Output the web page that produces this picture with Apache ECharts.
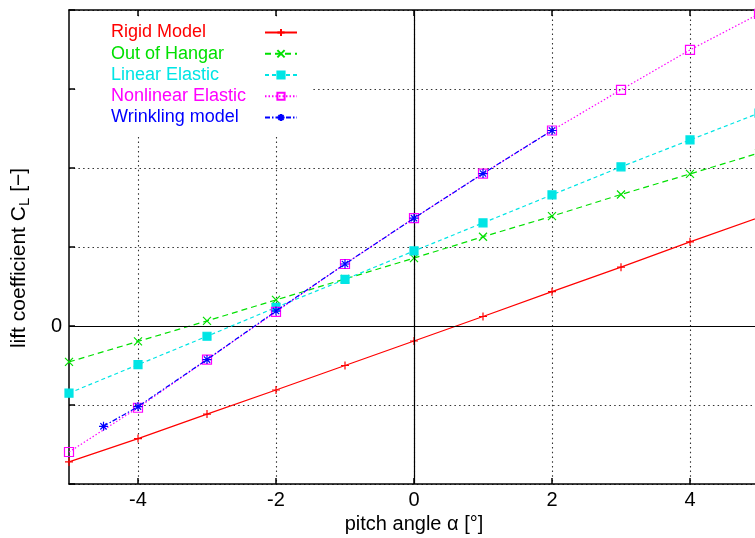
<!DOCTYPE html>
<html>
<head>
<meta charset="utf-8">
<script src="https://cdn.jsdelivr.net/npm/echarts@6/dist/echarts.min.js"></script>
<style>html,body{margin:0;padding:0;background:#fff}#c{width:755px;height:538px}</style>
</head>
<body>
<div id="c"></div>
<script>
// ---- data ----
const seriesNames = ['Rigid Model', 'Out of Hangar', 'Linear Elastic', 'Nonlinear Elastic', 'Wrinkling model'];
const pitchAngles = [-5, -4, -3, -2, -1, 0, 1, 2, 3, 4, 5];
const rigidModel = [-0.344, -0.285, -0.223, -0.162, -0.100, -0.038, 0.024, 0.087, 0.149, 0.213, 0.275];
const outOfHangar = [-0.091, -0.039, 0.013, 0.066, 0.119, 0.172, 0.226, 0.278, 0.333, 0.385, 0.438];
const linearElastic = [-0.170, -0.098, -0.026, 0.047, 0.118, 0.190, 0.261, 0.332, 0.403, 0.471, 0.539];
const nonlinearElastic = [-0.319, -0.207, -0.085, 0.036, 0.157, 0.273, 0.386, 0.495, 0.598, 0.699, 0.790];
const wrinklingAngles = [-4.5, -4, -3, -2, -1, 0, 1, 2];
const wrinklingModel = [-0.254, -0.204, -0.085, 0.038, 0.157, 0.273, 0.386, 0.495];
const xTickValues = [-4, -2, 0, 2, 4];
const yTickLabels = ['0'];

// ---- styles ----
const colors = ['#ff0000', '#00e000', '#00e5e5', '#ff00ff', '#0000ff'];
const dashes = ['solid', [6, 4], [4, 3], [1.5, 2], [5, 2, 1.5, 2]];
const symbols = [
  'path://M5,0L5,10M0,5L10,5',
  'path://M0,0L10,10M0,10L10,0',
  'rect',
  'rect',
  'path://M5,0L5,10M0,5L10,5M1.5,1.5L8.5,8.5M1.5,8.5L8.5,1.5'
];
const symbolSizes = [8, 8, 8, 9, 9];
const fills = ['#ff0000', '#00e000', '#00e5e5', 'rgba(255,255,255,0)', '#0000ff'];

function pairs(xs, ys) { return xs.map((x, i) => [x, ys[i]]); }
const dataSets = [
  pairs(pitchAngles, rigidModel),
  pairs(pitchAngles, outOfHangar),
  pairs(pitchAngles, linearElastic),
  pairs(pitchAngles, nonlinearElastic),
  pairs(wrinklingAngles, wrinklingModel)
];

const FONT = 'Liberation Sans, Arial, Helvetica, sans-serif';
const dotted = { type: [1.5, 3.2], color: '#333', width: 1.1 };

const series = seriesNames.map((name, i) => ({
  name: name,
  type: 'line',
  xAxisIndex: 0,
  yAxisIndex: 0,
  data: dataSets[i],
  symbol: symbols[i],
  symbolSize: symbolSizes[i],
  showAllSymbol: true,
  animation: false,
  lineStyle: { color: colors[i], width: 1.2, type: dashes[i] },
  itemStyle: { color: fills[i], borderColor: colors[i], borderWidth: 1.2 },
  emphasis: { disabled: true },
  z: 3 + i
}));
// zero lines
series[0].markLine = {
  silent: true,
  symbol: 'none',
  animation: false,
  label: { show: false },
  lineStyle: { color: '#000', type: 'solid', width: 1.2 },
  emphasis: { disabled: true },
  data: [{ xAxis: 0 }, { yAxis: 0 }]
};

const rich = {};
seriesNames.forEach((n, i) => {
  rich['s' + i] = { width: 149, align: 'left', color: colors[i], fontSize: 18, fontFamily: FONT, lineHeight: 21 };
});

const option = {
  animation: false,
  backgroundColor: '#fff',
  grid: [
    { left: 69, top: 10, width: 690, height: 474, outerBoundsMode: 'none', containLabel: false },
    { left: 138, top: 10, width: 552, height: 474, outerBoundsMode: 'none', containLabel: false }
  ],
  legend: {
    data: seriesNames,
    orient: 'vertical',
    left: 76,
    top: 18,
    align: 'right',
    padding: [4, 15, 6, 35],
    itemGap: 0.25,
    itemWidth: 32,
    itemHeight: 9,
    backgroundColor: '#fff',
    selectedMode: false,
    formatter: name => '{s' + seriesNames.indexOf(name) + '|' + name + '}',
    textStyle: { fontSize: 18, fontFamily: FONT, lineHeight: 21, rich: rich },
    z: 10
  },
  xAxis: [
    { // data axis, bottom border
      type: 'value', gridIndex: 0, min: -5, max: 5, interval: 1,
      axisLine: { onZero: false, lineStyle: { color: '#000', width: 1.5 } },
      axisTick: { show: false }, axisLabel: { show: false }, splitLine: { show: false }
    },
    { // top border
      type: 'value', gridIndex: 0, position: 'top', min: -5, max: 5, interval: 1,
      axisLine: { onZero: false, lineStyle: { color: '#000', width: 1.5 } },
      axisTick: { show: false }, axisLabel: { show: false }, splitLine: { show: false }
    },
    { // displayed ticks/labels/grid
      type: 'value', gridIndex: 1, min: xTickValues[0], max: xTickValues[xTickValues.length - 1], interval: 2,
      axisLine: { show: false, onZero: false },
      axisTick: { show: true, inside: true, length: 6, lineStyle: { color: '#000', width: 1.5 } },
      axisLabel: { show: true, margin: 6, fontSize: 20, fontFamily: FONT, color: '#000' },
      splitLine: { show: true, lineStyle: dotted },
      name: 'pitch angle α [°]', nameLocation: 'middle', nameGap: 29,
      nameTextStyle: { fontSize: 20, fontFamily: FONT, color: '#000' }
    },
    {
      type: 'value', gridIndex: 1, position: 'top', min: -4, max: 4, interval: 2,
      axisLine: { show: false, onZero: false },
      axisTick: { show: true, inside: true, length: 6, lineStyle: { color: '#000', width: 1.5 } },
      axisLabel: { show: false }, splitLine: { show: false }
    }
  ],
  yAxis: [
    {
      type: 'value', gridIndex: 0, min: -0.4, max: 0.8, interval: 0.2,
      axisLine: { show: true, onZero: false, lineStyle: { color: '#000', width: 1.5 } },
      axisTick: { show: true, inside: true, length: 6, lineStyle: { color: '#000', width: 1.5 } },
      axisLabel: {
        show: true, margin: 7, fontSize: 20, fontFamily: FONT, color: '#000',
        formatter: v => (Math.abs(v) < 1e-9 ? yTickLabels[0] : '')
      },
      splitLine: { show: true, lineStyle: dotted },
      name: 'lift coefficient C{sub|L} [−]', nameLocation: 'middle', nameGap: 37,
      nameTextStyle: {
        fontSize: 21, fontFamily: FONT, color: '#000', padding: [0, 22, 0, 0],
        rich: { sub: { fontSize: 15, fontFamily: FONT, color: '#000', padding: [10, 0, 0, 0] } }
      }
    },
    {
      type: 'value', gridIndex: 1, min: -0.4, max: 0.8, interval: 0.2, show: false
    }
  ],
  series: series
};

const chart = echarts.init(document.getElementById('c'), null, { renderer: 'canvas' });
chart.setOption(option);
</script>
</body>
</html>
